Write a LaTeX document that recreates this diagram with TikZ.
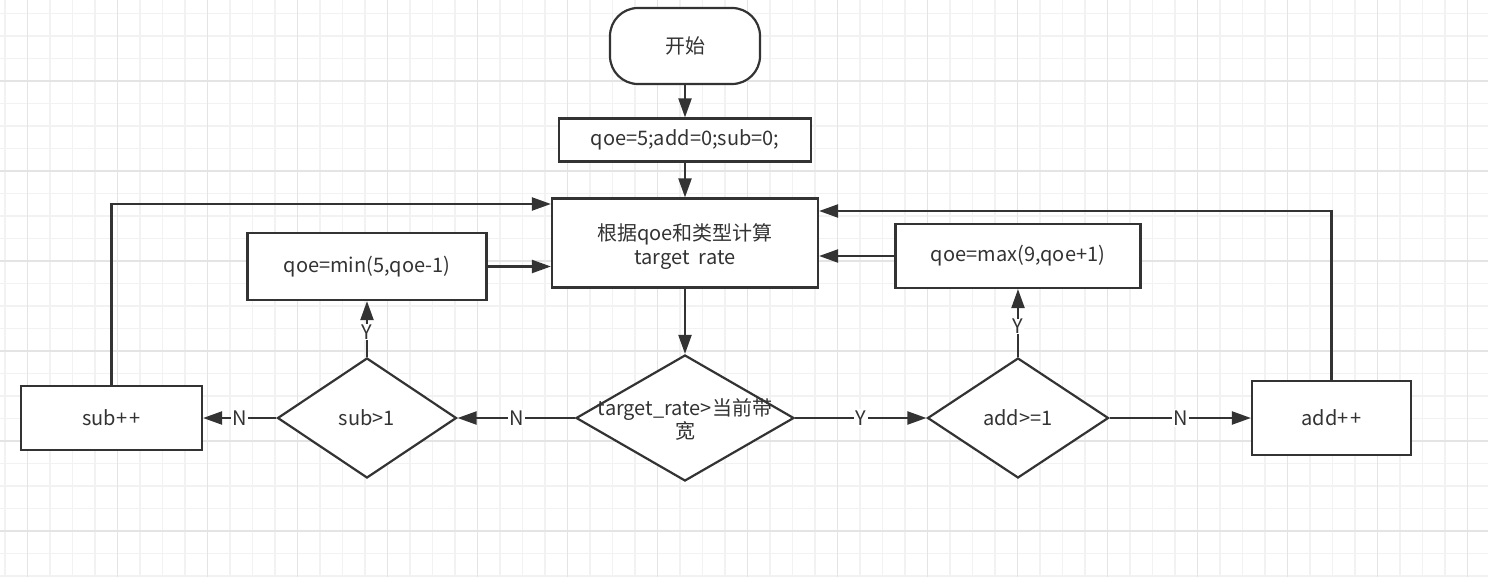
\documentclass[tikz,border=0pt]{standalone}
\usepackage{fontspec}
\setmainfont{Noto Sans CJK SC}
\usetikzlibrary{shapes.geometric,arrows.meta}
\definecolor{ink}{HTML}{333333}
\definecolor{gminor}{HTML}{F2F2F2}
\definecolor{gmajor}{HTML}{E4E4E4}
\newcommand{\ctext}[2]{\makebox[0pt]{\smash{\raisebox{#1}{\begin{tabular}{@{}c@{}}#2\end{tabular}}}}}
\tikzset{
  gridminor/.style={draw=gminor,line width=1.2pt},
  gridmajor/.style={draw=gmajor,line width=1.4pt},
  box/.style={draw=ink,line width=2.2pt,fill=white,text=ink,inner sep=0pt,font=\fontsize{20}{24}\selectfont,align=center},
  terminal/.style={box,rounded corners=28pt},
  decision/.style={draw=ink,line width=2.2pt,fill=white,text=ink,diamond,inner sep=0pt,font=\fontsize{20}{24}\selectfont},
  flow/.style={draw=ink,line width=2.2pt,-{Triangle[length=19pt,width=13pt]}},
  lbl/.style={fill=white,text=ink,inner sep=1.5pt,font=\fontsize{20}{22}\selectfont}
}
\begin{document}
\begin{tikzpicture}[x=1pt,y=-1pt]
\useasboundingbox (0,0) rectangle (1488,577);
\fill[white] (0,0) rectangle (1488,577);
\foreach \i in {0,...,66} {\draw[gridminor] ({5+22.5*\i},0) -- ({5+22.5*\i},577);}
\foreach \i in {0,...,25} {\draw[gridminor] (0,{13.5+22.5*\i}) -- (1488,{13.5+22.5*\i});}
\foreach \i in {0,...,16} {\draw[gridmajor] ({27.5+90*\i},0) -- ({27.5+90*\i},577);}
\foreach \i in {0,...,5} {\draw[gridmajor] (0,{81+90*\i}) -- (1488,{81+90*\i});}

\node[terminal,minimum width=150pt,minimum height=76pt] (start) at (685,46) {开始};
\node[box,minimum width=252pt,minimum height=43pt] (init) at (685,140) {qoe=5;add=0;sub=0;};
\node[box,minimum width=266pt,minimum height=89pt] (main) at (685,243) {\ctext{-10pt}{根据qoe和类型计算\\target\ \ rate}};
\node[box,minimum width=239pt,minimum height=67pt] (qmin) at (367,266.5) {qoe=min(5,qoe-1)};
\node[box,minimum width=245pt,minimum height=64pt] (qmax) at (1018,256) {qoe=max(9,qoe+1)};
\node[decision,minimum width=218pt,minimum height=126pt] (cmp) at (685,418) {\ctext{-9pt}{target\_rate>当前带\\[-1pt]宽}};
\node[decision,minimum width=179pt,minimum height=120pt] (sub) at (367,418) {\ctext{-8pt}{sub>1}};
\node[decision,minimum width=181pt,minimum height=120pt] (add) at (1018,418) {\ctext{-8pt}{add>=1}};
\node[box,minimum width=181pt,minimum height=64pt] (subpp) at (111.5,418) {sub+\kern2pt+};
\node[box,minimum width=159pt,minimum height=74pt] (addpp) at (1331.5,418) {add+\kern2pt+};

\coordinate (lrow) at (0,204);
\coordinate (rrow) at (0,211);

\draw[flow] (start) -- (init);
\draw[flow] (init) -- (main);
\draw[flow] (main) -- (cmp);
\draw[flow] (cmp.west) -- node[lbl] {N} (sub.east);
\draw[flow] (cmp.east) -- node[lbl] {Y} (add.west);
\draw[flow] (sub.west) -- node[lbl] {N} (subpp.east);
\draw[flow] (add.east) -- node[lbl] {N} (addpp.west);
\draw[flow] (sub.north) -- node[lbl,inner sep=0.5pt,pos=0.45] {Y} (qmin.south);
\draw[flow] (add.north) -- node[lbl,inner sep=0.5pt,pos=0.45] {Y} (qmax.south);
\draw[flow] (qmin.east) -- (qmin.east -| main.west);
\draw[flow] (qmax.west) -- (qmax.west -| main.east);
\draw[flow] (subpp.north) |- (main.west |- lrow);
\draw[flow] (addpp.north) |- (main.east |- rrow);
\end{tikzpicture}
\end{document}
